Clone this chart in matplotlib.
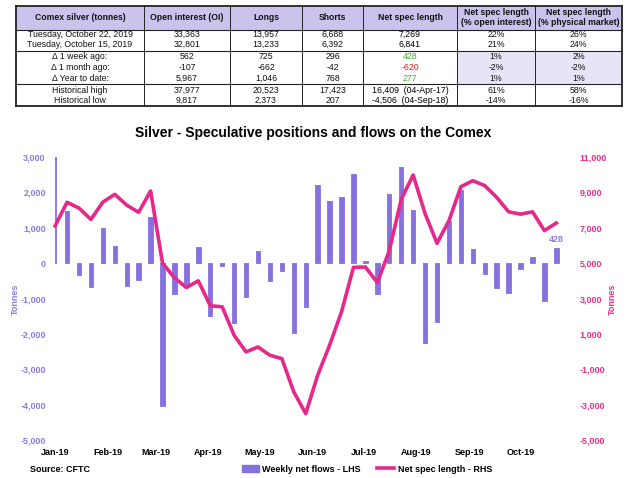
import numpy as np
import matplotlib
matplotlib.use("Agg")
import matplotlib.pyplot as plt
import matplotlib.dates as mdates
from matplotlib.patches import Rectangle, Patch
from matplotlib.lines import Line2D
from matplotlib.ticker import FuncFormatter

plt.rcParams['font.family'] = ['Liberation Sans', 'DejaVu Sans']

# ---- chart data (tonnes), weekly COT reports 2019
weeks = np.array([
    '2019-01-01', '2019-01-08', '2019-01-15', '2019-01-22', '2019-01-29',
    '2019-02-05', '2019-02-12', '2019-02-19', '2019-02-26', '2019-03-05',
    '2019-03-12', '2019-03-19', '2019-03-26', '2019-04-02', '2019-04-09',
    '2019-04-16', '2019-04-23', '2019-04-30', '2019-05-07', '2019-05-14',
    '2019-05-21', '2019-05-28', '2019-06-04', '2019-06-11', '2019-06-18',
    '2019-06-25', '2019-07-02', '2019-07-09', '2019-07-16', '2019-07-23',
    '2019-07-30', '2019-08-06', '2019-08-13', '2019-08-20', '2019-08-27',
    '2019-09-03', '2019-09-10', '2019-09-17', '2019-09-24', '2019-10-01',
    '2019-10-08', '2019-10-15', '2019-10-22'], dtype='datetime64[D]')

weekly_flows = [3000, 1470, -340, -670, 1000, 480, -640, -480, 1290, -4050,
                -880, -640, 460, -1500, -90, -1680, -950, 350, -500, -220,
                -1970, -1240, 2210, 1765, 1860, 2520, 50, -860, 1950, 2730,
                1500, -2270, -1660, 1190, 2070, 390, -320, -700, -840, -160,
                160, -1075, 428]

net_spec = [7100, 8440, 8110, 7470, 8450, 8890, 8280, 7870, 9080, 5000,
            4170, 3620, 4000, 2590, 2530, 920, -20, 260, -210, -400,
            -2280, -3510, -1340, 360, 2250, 4760, 4780, 3900, 5700, 8600,
            9980, 7800, 6120, 7400, 9320, 9660, 9380, 8720, 7900, 7770,
            7900, 6841, 7269]

# ---- table data
col_heads = ['Comex silver (tonnes)', 'Open interest (OI)', 'Longs', 'Shorts',
             'Net spec length', 'Net spec length\n(% open interest)',
             'Net spec length\n(% physical market)']
table_rows = [
    ['Tuesday, October 22, 2019', '33,363', '13,957', '6,688', '7,269', '22%', '26%'],
    ['Tuesday, October 15, 2019', '32,801', '13,233', '6,392', '6,841', '21%', '24%'],
    ['\u0394 1 week ago:', '562', '725', '296', '428', '1%', '2%'],
    ['\u0394 1 month ago:', '-107', '-662', '-42', '-620', '-2%', '-2%'],
    ['\u0394 Year to date:', '5,967', '1,046', '768', '277', '1%', '1%'],
    ['Historical high', '37,977', '20,523', '17,423', '16,409  (04-Apr-17)', '61%', '58%'],
    ['Historical low', '9,817', '2,373', '207', '-4,506  (04-Sep-18)', '-14%', '-16%'],
]
green, red = '#3DAA3D', '#F02020'
net_colors = ['black', 'black', green, red, green, 'black', 'black']

bar_c = '#8771DF'
line_c = '#E5288A'
left_c = '#8C7DE2'
right_c = '#E8308C'
fs = 6.5

fig = plt.figure(figsize=(6.4, 4.78), dpi=100)

# ---- table drawn in pixel coordinates
tab = fig.add_axes([0, 0, 1, 1])
tab.set_xlim(0, 640)
tab.set_ylim(478, 0)
tab.axis('off')

col_x = [16, 144, 230, 302, 363, 457, 535, 622]
head_top, head_bot = 6, 29.5
row_y = [34.7, 44.7, 56.5, 67.5, 78.5, 90, 100.5]
sep_y = [50.5, 84]
bottom = 106

tab.add_patch(Rectangle((col_x[0], head_top), col_x[-1] - col_x[0],
                        head_bot - head_top, fc='#CCC3EC', ec='none'))
tab.add_patch(Rectangle((col_x[5], sep_y[0]), col_x[7] - col_x[5],
                        sep_y[1] - sep_y[0], fc='#E8E3F6', ec='none'))
for x in col_x:
    lw = 1.3 if x in (col_x[0], col_x[-1]) else 0.7
    tab.plot([x, x], [head_top, bottom], color='#222222', lw=lw)
for y in [head_top, head_bot] + sep_y + [bottom]:
    lw = 1.3 if y in (head_top, bottom) else 0.8
    tab.plot([col_x[0], col_x[-1]], [y, y], color='#222222', lw=lw)

for j, h in enumerate(col_heads):
    cx = (col_x[j] + col_x[j + 1]) / 2
    tab.text(cx, (head_top + head_bot) / 2, h, ha='center', va='center',
             fontsize=6.2, fontweight='bold', linespacing=1.1, color='#111111')
for i, row in enumerate(table_rows):
    for j, v in enumerate(row):
        cx = (col_x[j] + col_x[j + 1]) / 2
        c = net_colors[i] if j == 4 else '#111111'
        tab.text(cx, row_y[i], v, ha='center', va='center', fontsize=6.3, color=c)

# ---- chart
ax = fig.add_axes([50 / 640, 1 - 440 / 478, 520 / 640, 283 / 478])
widths = np.full(len(weeks), 2.6)
widths[0] = 0.5
ax.bar(weeks, weekly_flows, width=widths, color=bar_c, ec=bar_c, lw=0.6,
       joinstyle='round')
ax.set_ylim(-5000, 3000)
ax.set_yticks(range(-5000, 3001, 1000))
ax.annotate(f'{weekly_flows[-1]:,}', (weeks[-1], weekly_flows[-1]),
            xytext=(0, 3), textcoords='offset points', ha='center', va='bottom',
            fontsize=fs, fontweight='bold', color=left_c)

ax2 = ax.twinx()
ax2.plot(weeks, net_spec, color=line_c, lw=2.6, solid_joinstyle='round')
ax2.set_ylim(-5000, 11000)
ax2.set_yticks(range(-5000, 11001, 2000))

ax.set_xlim(mdates.date2num(np.datetime64('2018-12-29')),
            mdates.date2num(np.datetime64('2019-10-30')))
ax.xaxis.set_major_locator(mdates.MonthLocator())
ax.xaxis.set_major_formatter(mdates.DateFormatter('%b-%y'))

fmt = FuncFormatter(lambda v, p: f'{v:,.0f}')
for a in (ax, ax2):
    for s in a.spines.values():
        s.set_visible(False)
    a.yaxis.set_major_formatter(fmt)
ax.tick_params(axis='y', length=0, pad=3, labelsize=fs, labelcolor=left_c)
ax2.tick_params(axis='y', length=0, pad=7, labelsize=fs, labelcolor=right_c)
ax.tick_params(axis='x', length=0, pad=6, labelsize=fs, labelcolor='black')
for lab in ax.get_yticklabels() + ax2.get_yticklabels() + ax.get_xticklabels():
    lab.set_fontweight('bold')

fig.text(15 / 640, 1 - 299 / 478, 'Tonnes', rotation=90, ha='center', va='center',
         fontsize=fs, fontweight='bold', color=left_c)
fig.text(612 / 640, 1 - 299 / 478, 'Tonnes', rotation=90, ha='center', va='center',
         fontsize=fs, fontweight='bold', color=right_c)

fig.text(313 / 640, 1 - 133 / 478, 'Silver - Speculative positions and flows on the Comex',
         ha='center', va='center', fontsize=10, fontweight='bold')
fig.text(30 / 640, 1 - 470 / 478, 'Source: CFTC', ha='left', va='center',
         fontsize=fs, fontweight='bold')

handles = [Patch(fc=bar_c, ec=bar_c), Line2D([], [], color=line_c, lw=2.6)]
leg = fig.legend(handles, ['Weekly net flows - LHS', 'Net spec length - RHS'],
                 loc='center', bbox_to_anchor=(367 / 640, 1 - 469 / 478), ncol=2,
                 frameon=False, prop={'size': fs, 'weight': 'bold'},
                 handlelength=1.9, handleheight=0.8, handletextpad=0.4,
                 columnspacing=1.8)

fig.savefig('out.png', dpi=100)
